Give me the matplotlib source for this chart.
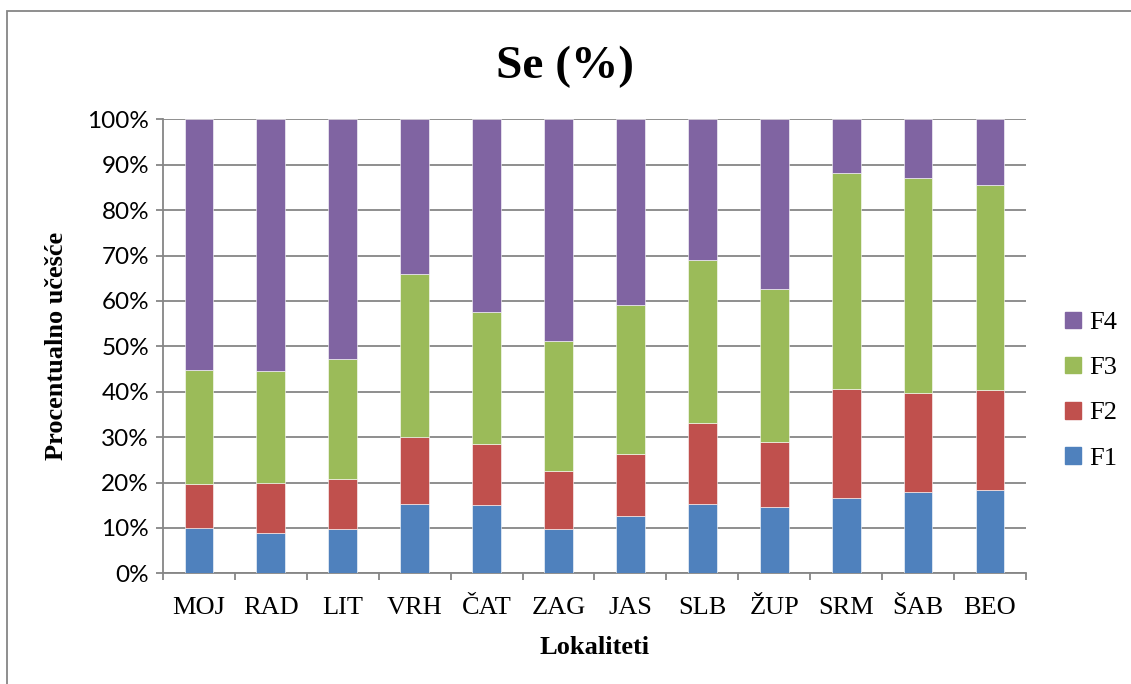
import matplotlib.pyplot as plt
import matplotlib.patches as mpatches
import numpy as np

lokaliteti = ['MOJ', 'RAD', 'LIT', 'VRH', 'ČAT', 'ZAG', 'JAS', 'SLB', 'ŽUP', 'SRM', 'ŠAB', 'BEO']
f1 = [10.0, 8.8, 9.8, 15.3, 15.0, 9.7, 12.7, 15.2, 14.5, 16.7, 18.0, 18.4]
f2 = [9.7, 11.0, 11.0, 14.7, 13.4, 12.9, 13.6, 17.8, 14.5, 24.0, 21.8, 22.0]
f3 = [25.0, 24.8, 26.4, 35.9, 29.1, 28.6, 32.9, 35.9, 33.6, 47.4, 47.3, 45.2]
f4 = [55.3, 55.4, 52.8, 34.1, 42.5, 48.8, 40.8, 31.1, 37.4, 11.9, 12.9, 14.4]

serije = [('F1', f1, '#4F81BD'), ('F2', f2, '#C0504D'),
          ('F3', f3, '#9BBB59'), ('F4', f4, '#8064A2')]

serif = 'Liberation Serif'
sans = 'Lato'

fig = plt.figure(figsize=(11.31, 6.84), dpi=100)
ax = fig.add_axes([0.1441, 0.1618, 0.7630, 0.6638])

x = np.arange(len(lokaliteti))
dno = np.zeros(len(lokaliteti))
for ime, vrednosti, boja in serije:
    ax.bar(x, vrednosti, width=0.4, bottom=dno, color=boja,
           edgecolor='white', linewidth=0.4, label=ime, zorder=3)
    dno += np.array(vrednosti)

ax.set_xlim(-0.5, len(lokaliteti) - 0.5)
ax.set_ylim(0, 100)
ax.set_yticks(np.arange(0, 101, 10))
ax.set_yticklabels([f'{v}%' for v in range(0, 101, 10)], fontfamily=sans, fontsize=17.5)
ax.yaxis.grid(True, color='#868686', linewidth=1.3, zorder=0)

ax.set_xticks(x)
ax.set_xticklabels(lokaliteti, fontfamily=serif, fontsize=19)
ax.set_xticks(np.arange(-0.5, len(lokaliteti)), minor=True)
ax.tick_params(axis='x', which='major', length=0, pad=17)
ax.tick_params(axis='x', which='minor', length=5, color='#868686', width=1.3)
ax.tick_params(axis='y', length=5, color='#868686', width=1.3, pad=5)

for s in ['top', 'right']:
    ax.spines[s].set_visible(False)
for s in ['left', 'bottom']:
    ax.spines[s].set_color('#868686')
    ax.spines[s].set_linewidth(1.3)

ax.set_xlabel('Lokaliteti', fontfamily=serif, fontsize=19, fontweight='bold', labelpad=12)
ax.set_ylabel('Procentualno učešće', fontfamily=serif, fontsize=19, fontweight='bold', labelpad=14)
fig.text(0.5, 0.902, 'Se (%)', fontfamily=serif, fontsize=34, fontweight='bold',
         ha='center', va='center')

handles = [mpatches.Patch(color=c) for _, _, c in serije][::-1]
labels = [n for n, _, _ in serije][::-1]
fig.legend(handles, labels, loc='center left', bbox_to_anchor=(0.921, 0.429),
           frameon=False, prop={'family': serif, 'size': 19},
           handlelength=0.6, handleheight=0.6, handletextpad=0.3, labelspacing=0.85)

okvir = mpatches.Rectangle((7 / 1131, -0.1), 1.2, 0.1 + 1 - 11 / 684, transform=fig.transFigure,
                           fill=False, edgecolor='#868686', linewidth=1.3)
fig.patches.append(okvir)

fig.savefig('out.png', dpi=100)
